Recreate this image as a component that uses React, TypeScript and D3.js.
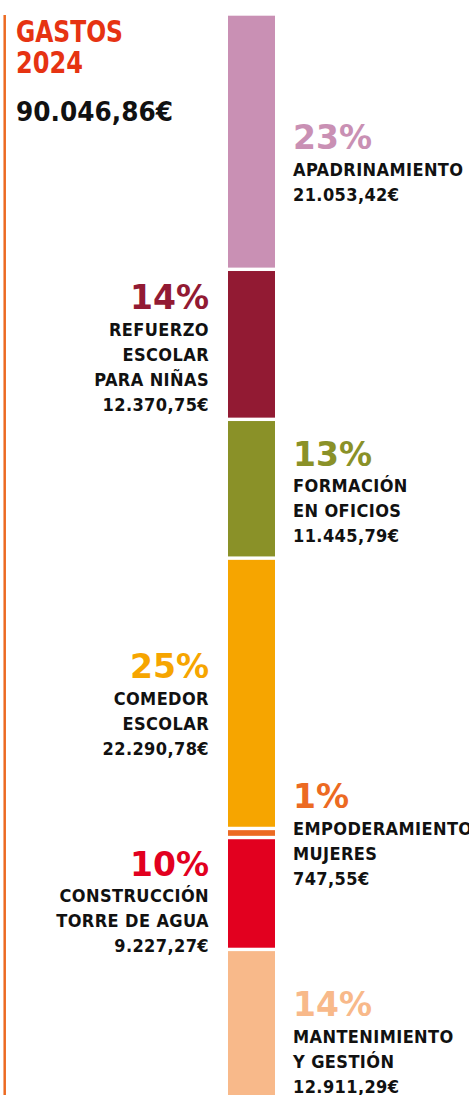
import React from "react";
import * as d3 from "d3";

// ---- data ----
const categories = [
  "APADRINAMIENTO",
  "REFUERZO ESCOLAR PARA NIÑAS",
  "FORMACIÓN EN OFICIOS",
  "COMEDOR ESCOLAR",
  "EMPODERAMIENTO MUJERES",
  "CONSTRUCCIÓN TORRE DE AGUA",
  "MANTENIMIENTO Y GESTIÓN",
];
const nameLines = [
  ["APADRINAMIENTO"],
  ["REFUERZO", "ESCOLAR", "PARA NIÑAS"],
  ["FORMACIÓN", "EN OFICIOS"],
  ["COMEDOR", "ESCOLAR"],
  ["EMPODERAMIENTO", "MUJERES"],
  ["CONSTRUCCIÓN", "TORRE DE AGUA"],
  ["MANTENIMIENTO", "Y GESTIÓN"],
];
const values = [21053.42, 12370.75, 11445.79, 22290.78, 747.55, 9227.27, 12911.29];
const percents = [23, 14, 13, 25, 1, 10, 14];
const amountLabels = [
  "21.053,42€",
  "12.370,75€",
  "11.445,79€",
  "22.290,78€",
  "747,55€",
  "9.227,27€",
  "12.911,29€",
];
const totalLabel = "90.046,86€";
const titleLines = ["GASTOS", "2024"];

// ---- styling / layout ----
const colors = ["#C990B4", "#921A33", "#8A9128", "#F6A500", "#EC6A22", "#E2001F", "#F8B98A"];
const sides = ["right", "left", "right", "left", "right", "left", "right"];
const labelNudge = [20.8, 3.5, 3, 10.7, 1.3, 8.2, 14.3];
const titleWidths = [107, 67];

const W = 469;
const H = 1095;
const FONT = "'DejaVu Sans Condensed', 'DejaVu Sans', sans-serif";
const FONT_WIDE = "'DejaVu Sans', sans-serif";

export default function App() {
  const total = d3.sum(values);
  const starts = values.map((_, i) => d3.sum(values.slice(0, i)));
  const y = d3.scaleLinear().domain([0, total]).range([14, 1106]);
  const barX = 228;
  const barW = 47;
  const gap = 3.4;
  const lineH = 25;

  return (
    <svg
      width={W}
      height={H}
      style={{ position: "absolute", left: 0, top: 0, background: "#fff" }}
      fontFamily={FONT}
    >
      <rect x={0} y={0} width={W} height={H} fill="#fff" />
      <line x1={4.7} x2={4.7} y1={15} y2={H} stroke="#EC6A22" strokeWidth={2.5} />
      {titleLines.map((t, i) => (
        <text
          key={t}
          x={16}
          y={41.7 + i * 31}
          fontSize={30}
          fontWeight="bold"
          fill="#E63312"
          textLength={titleWidths[i]}
          lengthAdjust="spacingAndGlyphs"
          style={{ fontStretch: "condensed" }}
        >
          {t}
        </text>
      ))}
      <text
        x={16}
        y={120.7}
        fontSize={26}
        fontWeight="bold"
        fill="#111"
        fontFamily={FONT_WIDE}
        textLength={157}
        lengthAdjust="spacingAndGlyphs"
      >
        {totalLabel}
      </text>

      {values.map((v, i) => {
        const y0 = y(starts[i]) + gap / 2;
        const y1 = y(starts[i] + v) - gap / 2;
        return <rect key={categories[i]} x={barX} y={y0} width={barW} height={Math.max(0, y1 - y0)} fill={colors[i]} />;
      })}

      {values.map((v, i) => {
        const mid = y(starts[i] + v / 2);
        const nLines = nameLines[i].length + 1;
        const blockTop = -24;
        const blockBottom = 26 + (nLines - 1) * lineH;
        const p = mid + labelNudge[i] - (blockTop + blockBottom) / 2;
        const right = sides[i] === "right";
        const x = right ? 293 : 209;
        const anchor = right ? "start" : "end";
        const lines = [...nameLines[i], amountLabels[i]];
        return (
          <g key={categories[i]} textAnchor={anchor}>
            <text x={x} y={p} fontSize={33} fontWeight="bold" fill={colors[i]} fontFamily={FONT_WIDE}>
              {percents[i]}%
            </text>
            {lines.map((l, j) => (
              <text
                key={j}
                x={x}
                y={p + 26.7 + j * lineH}
                fontSize={18}
                fontWeight="bold"
                fill="#111"
                letterSpacing={0.4}
                style={{ fontStretch: "condensed" }}
              >
                {l}
              </text>
            ))}
          </g>
        );
      })}
    </svg>
  );
}
